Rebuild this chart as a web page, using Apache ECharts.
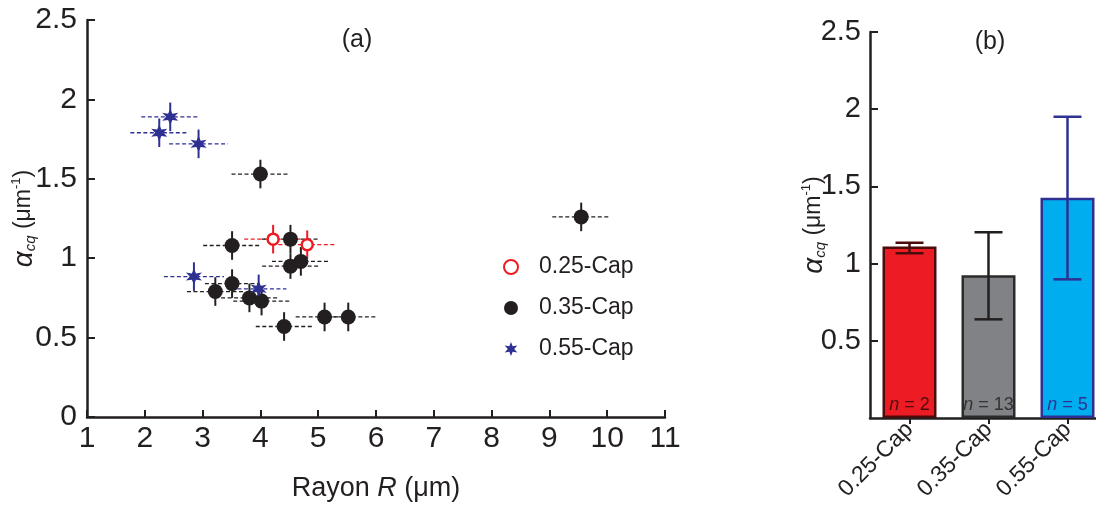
<!DOCTYPE html>
<html><head><meta charset="utf-8">
<script src="https://cdn.jsdelivr.net/npm/echarts@6/dist/echarts.min.js"></script>
<style>html,body{margin:0;padding:0;background:#fff}#c{width:1096px;height:506px}</style>
</head><body><div id="c"></div>
<script>
// ---- Panel (a) data ----
const redX = [4.22, 4.81];
const redY = [1.12, 1.085];
const redXErr = [0.5, 0.5];
const redYErr = [0.09, 0.09];

const blackX = [4.00, 3.51, 4.52, 4.52, 4.70, 3.51, 3.22, 3.81, 4.02, 5.11, 5.52, 4.41, 9.55];
const blackY = [1.53, 1.08, 1.12, 0.95, 0.98, 0.84, 0.79, 0.75, 0.73, 0.63, 0.63, 0.57, 1.26];
const blackXErr = [0.5, 0.5, 0.5, 0.49, 0.5, 0.47, 0.49, 0.49, 0.49, 0.5, 0.5, 0.49, 0.5];
const blackYErr = [0.09, 0.09, 0.09, 0.08, 0.09, 0.09, 0.09, 0.09, 0.09, 0.09, 0.09, 0.09, 0.09];

const blueX = [2.44, 2.25, 2.93, 2.85, 3.97];
const blueY = [1.89, 1.79, 1.72, 0.884, 0.807];
const blueXErr = [0.5, 0.5, 0.51, 0.52, 0.48];
const blueYErr = [0.09, 0.09, 0.09, 0.09, 0.09];

const seriesNames = ['0.25-Cap', '0.35-Cap', '0.55-Cap'];

// ---- Panel (b) data ----
const barCats = ['0.25-Cap', '0.35-Cap', '0.55-Cap'];
const barMeans = [1.11, 0.925, 1.427];
const barErrLow = [1.067, 0.639, 0.898];
const barErrHigh = [1.135, 1.203, 1.951];
const barCounts = [2, 13, 5];

const NARROW = "'Liberation Sans Narrow', 'Arial Narrow', 'Liberation Sans', Arial, sans-serif";
const SANS = "'Liberation Sans', Arial, sans-serif";
const INK = '#231F20';
const RED = '#ED1C24', BLUE = '#2E3192', CYAN = '#00AEEF', GRAY = '#808285';

const starPath = 'path://M50,0 L62,30 L95,25 L73,50 L95,75 L62,70 L50,100 L38,70 L5,75 L27,50 L5,25 L38,30 Z';

function zip(xs, ys, exs, eys) { return xs.map((x, i) => [x, ys[i], exs[i], eys[i]]); }

function errRender(color) {
  return function (params, api) {
    const x = api.value(0), y = api.value(1), ex = api.value(2), ey = api.value(3);
    const a = api.coord([x - ex, y]), b = api.coord([x + ex, y]);
    const c = api.coord([x, y - ey]), d = api.coord([x, y + ey]);
    return { type: 'group', children: [
      { type: 'line', shape: { x1: a[0], y1: a[1], x2: b[0], y2: b[1] }, style: { stroke: color, lineWidth: 1.3, lineDash: [4, 2.5] } },
      { type: 'line', shape: { x1: c[0], y1: c[1], x2: d[0], y2: d[1] }, style: { stroke: color, lineWidth: 2 } }
    ]};
  };
}

const barColors = [RED, GRAY, CYAN];
const barBorders = ['#4d0c0c', '#2b2b2b', BLUE];
const errColors = ['#4d0c0c', INK, BLUE];
const labelColors = ['#4d0c0c', '#333333', BLUE];

const axisLineStyle = { color: INK, width: 2.5 };
const yNameRich = {
  a: { fontSize: 28, fontStyle: 'italic', color: INK, fontFamily: SANS },
  s: { fontSize: 15, fontStyle: 'italic', color: INK, fontFamily: SANS, verticalAlign: 'bottom' },
  t: { fontSize: 23, color: INK, fontFamily: SANS },
  p: { fontSize: 13, color: INK, fontFamily: SANS, verticalAlign: 'top' }
};

const option = {
  animation: false,
  backgroundColor: '#fff',
  textStyle: { fontFamily: SANS, color: INK },
  graphic: [
    { type: 'text', x: 357, y: 40, style: { text: '(a)', font: '25px ' + SANS, fill: INK, textAlign: 'center', textVerticalAlign: 'middle' } },
    { type: 'text', x: 990, y: 42, style: { text: '(b)', font: '25px ' + SANS, fill: INK, textAlign: 'center', textVerticalAlign: 'middle' } }
  ],
  legend: {
    data: seriesNames,
    orient: 'vertical',
    left: 498, top: 249,
    itemWidth: 14, itemHeight: 14,
    itemGap: 15,
    textStyle: { fontSize: 23, color: INK, fontFamily: SANS, lineHeight: 26, padding: [0, 0, 0, 16] }
  },
  grid: [
    { left: 87, top: 20, width: 578, height: 397, containLabel: false, outerBoundsMode: 'none' },
    { left: 870, top: 32, width: 237, height: 386, containLabel: false, outerBoundsMode: 'none' }
  ],
  xAxis: [
    {
      gridIndex: 0, type: 'value', min: 1, max: 11, interval: 1,
      axisLine: { show: true, lineStyle: axisLineStyle },
      axisTick: { show: true, inside: true, length: 7, lineStyle: { color: INK, width: 2 } },
      axisLabel: { margin: 7, fontSize: 30, color: INK, fontFamily: NARROW },
      splitLine: { show: false },
      name: '{t|Rayon }{i|R}{t| (μm)}',
      nameLocation: 'middle', nameGap: 58, nameMoveOverlap: false,
      nameTextStyle: { rich: {
        t: { fontSize: 27, color: INK, fontFamily: SANS },
        i: { fontSize: 27, color: INK, fontFamily: SANS, fontStyle: 'italic' }
      } }
    },
    {
      gridIndex: 1, type: 'category', data: barCats,
      axisLine: { show: true, lineStyle: axisLineStyle },
      axisTick: { show: true, alignWithLabel: true, length: 6, lineStyle: { color: INK, width: 2 } },
      axisLabel: { rotate: 45, margin: 8, fontSize: 23, color: INK, fontFamily: NARROW, interval: 0 },
      splitLine: { show: false }
    }
  ],
  yAxis: [
    {
      gridIndex: 0, type: 'value', min: 0, max: 2.5, interval: 0.5,
      axisLine: { show: true, lineStyle: axisLineStyle },
      axisTick: { show: true, inside: true, length: 8, lineStyle: { color: INK, width: 2 } },
      axisLabel: { margin: 10, fontSize: 30, color: INK, fontFamily: NARROW },
      splitLine: { show: false },
      name: '{a|α}{s|cq}{t| (μm}{p|-1}{t|)}',
      nameLocation: 'middle', nameGap: 49, nameRotate: 90, nameMoveOverlap: false,
      nameTextStyle: { rich: yNameRich }
    },
    {
      gridIndex: 1, type: 'value', min: 0, max: 2.5, interval: 0.5,
      axisLine: { show: true, lineStyle: axisLineStyle },
      axisTick: { show: true, inside: true, length: 8, lineStyle: { color: INK, width: 2 } },
      axisLabel: { margin: 9, fontSize: 29, color: INK, fontFamily: NARROW, showMinLabel: false },
      splitLine: { show: false },
      name: '{a|α}{s|cq}{t| (μm}{p|-1}{t|)}',
      nameLocation: 'middle', nameGap: 42, nameRotate: 90, nameMoveOverlap: false,
      nameTextStyle: { rich: yNameRich }
    }
  ],
  series: [
    { name: 'err-red', type: 'custom', xAxisIndex: 0, yAxisIndex: 0, z: 2, renderItem: errRender(RED), data: zip(redX, redY, redXErr, redYErr), encode: { x: 0, y: 1 } },
    { name: 'err-black', type: 'custom', xAxisIndex: 0, yAxisIndex: 0, z: 2, renderItem: errRender(INK), data: zip(blackX, blackY, blackXErr, blackYErr), encode: { x: 0, y: 1 } },
    { name: 'err-blue', type: 'custom', xAxisIndex: 0, yAxisIndex: 0, z: 2, renderItem: errRender(BLUE), data: zip(blueX, blueY, blueXErr, blueYErr), encode: { x: 0, y: 1 } },
    { name: seriesNames[0], type: 'scatter', xAxisIndex: 0, yAxisIndex: 0, z: 4, symbol: 'circle', symbolSize: 11,
      itemStyle: { color: '#ffffff', borderColor: RED, borderWidth: 2.5, opacity: 1 },
      data: redX.map((x, i) => [x, redY[i]]) },
    { name: seriesNames[1], type: 'scatter', xAxisIndex: 0, yAxisIndex: 0, z: 3, symbol: 'circle', symbolSize: 15,
      itemStyle: { color: INK, opacity: 1 },
      data: blackX.map((x, i) => [x, blackY[i]]) },
    { name: seriesNames[2], type: 'scatter', xAxisIndex: 0, yAxisIndex: 0, z: 4, symbol: starPath, symbolSize: 16,
      itemStyle: { color: BLUE, opacity: 1 },
      data: blueX.map((x, i) => [x, blueY[i]]) },
    {
      name: 'bars', type: 'bar', xAxisIndex: 1, yAxisIndex: 1, z: 2, barWidth: 54,
      data: barMeans.map((v, i) => ({
        value: v,
        itemStyle: { color: barColors[i], borderColor: barBorders[i], borderWidth: 2.5 },
        label: { color: labelColors[i] }
      })),
      label: {
        show: true, position: 'insideBottom', distance: 4,
        formatter: p => '{i|n} = ' + barCounts[p.dataIndex],
        fontSize: 18, fontFamily: NARROW,
        rich: { i: { fontStyle: 'italic', fontSize: 18, fontFamily: NARROW } }
      }
    },
    {
      name: 'bar-err', type: 'custom', xAxisIndex: 1, yAxisIndex: 1, z: 5,
      data: barCats.map((c, i) => [i, barErrLow[i], barErrHigh[i]]),
      encode: { x: 0, y: [1, 2] },
      renderItem: function (params, api) {
        const i = api.value(0);
        const lo = api.coord([i, api.value(1)]), hi = api.coord([i, api.value(2)]);
        const col = errColors[params.dataIndex];
        const hw = 14;
        const st = { stroke: col, lineWidth: 2.5 };
        return { type: 'group', children: [
          { type: 'line', shape: { x1: lo[0], y1: lo[1], x2: hi[0], y2: hi[1] }, style: st },
          { type: 'line', shape: { x1: hi[0] - hw, y1: hi[1], x2: hi[0] + hw, y2: hi[1] }, style: st },
          { type: 'line', shape: { x1: lo[0] - hw, y1: lo[1], x2: lo[0] + hw, y2: lo[1] }, style: st }
        ]};
      }
    }
  ]
};

const chart = echarts.init(document.getElementById('c'), null, { renderer: 'canvas' });
chart.setOption(option);
</script>
</body></html>
